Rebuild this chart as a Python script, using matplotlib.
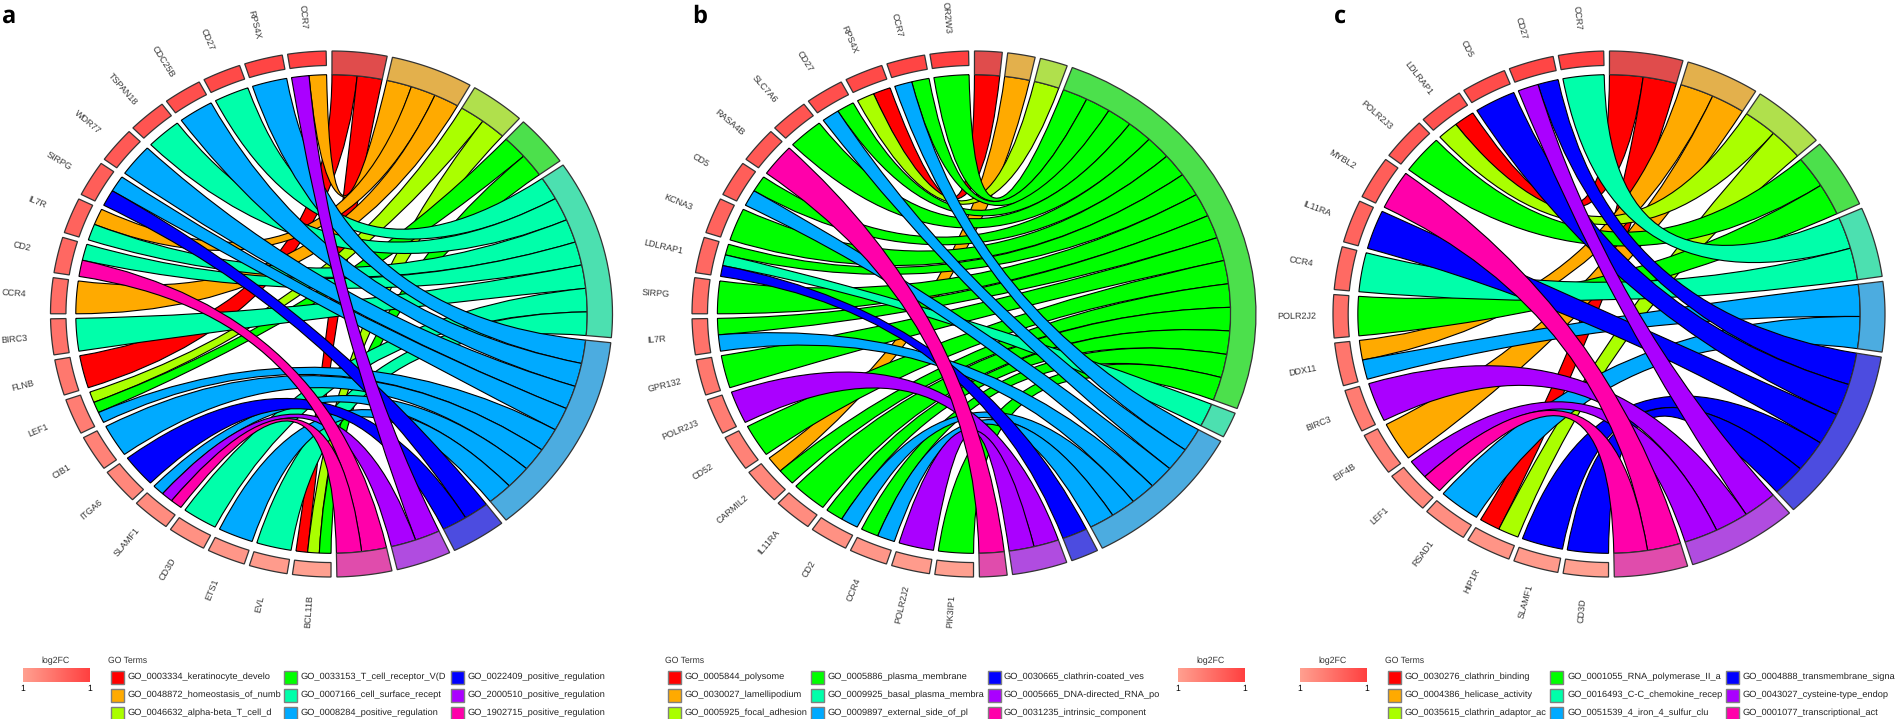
import numpy as np
import matplotlib
matplotlib.use('Agg')
import matplotlib.pyplot as plt
from matplotlib.path import Path
from matplotlib.patches import PathPatch, Rectangle
from matplotlib.colors import LinearSegmentedColormap

plt.rcParams['font.family'] = ['Liberation Sans', 'DejaVu Sans']
plt.rcParams['text.hinting'] = 'no_hinting'

# rainbow(9), ribbons and the paler outer band of every term
ribbon_colors = ['#FF0000', '#FFAA00', '#AAFF00', '#00FF00', '#00FFAA', '#00AAFF', '#0000FF', '#AA00FF', '#FF00AA']
band_colors = ['#E04C4C', '#E3B04C', '#B0E04C', '#4CE04C', '#4CE0B0', '#4CACE0', '#4C4CE0', '#B04CE0', '#E04CAC']

# panel a
genes_a = ['CCR7', 'RPS4X', 'CD27', 'CDC25B', 'TSPAN18', 'WDR77', 'SIRPG', 'IL7R', 'CD2', 'CCR4',
           'BIRC3', 'FLNB', 'LEF1', 'CIB1', 'ITGA6', 'SLAMF1', 'CD3D', 'ETS1', 'EVL', 'BCL11B']
links_a = [[1, 7], [5], [4], [5], [4], [5], [5, 6], [1, 4], [4, 8], [1],
           [4], [0], [2, 3, 5], [5], [6], [5, 7, 8], [4], [5], [4], [0, 2, 3]]
terms_a = ['GO_0003334_keratinocyte_develo', 'GO_0048872_homeostasis_of_numb', 'GO_0046632_alpha-beta_T_cell_d',
           'GO_0033153_T_cell_receptor_V(D', 'GO_0007166_cell_surface_recept', 'GO_0008284_positive_regulation',
           'GO_0022409_positive_regulation', 'GO_2000510_positive_regulation', 'GO_1902715_positive_regulation']

# panel b
genes_b = ['OR2W3', 'CCR7', 'RPS4X', 'CD27', 'SLC7A6', 'RASA4B', 'CD5', 'KCNA3', 'LDLRAP1', 'SIRPG',
           'IL7R', 'GPR132', 'POLR2J3', 'CD52', 'CARMIL2', 'IL11RA', 'CD2', 'CCR4', 'POLR2J2', 'PIK3IP1']
links_b = [[3], [3, 5], [0, 2], [3, 5], [3], [8], [3, 5], [3], [3, 4, 6], [3],
           [3, 5], [3], [7], [3], [1, 3], [3], [3, 5], [3, 5], [7], [3]]
terms_b = ['GO_0005844_polysome', 'GO_0030027_lamellipodium', 'GO_0005925_focal_adhesion',
           'GO_0005886_plasma_membrane', 'GO_0009925_basal_plasma_membra', 'GO_0009897_external_side_of_pl',
           'GO_0030665_clathrin-coated_ves', 'GO_0005665_DNA-directed_RNA_po', 'GO_0031235_intrinsic_component']

# panel c
genes_c = ['CCR7', 'CD27', 'CD5', 'LDLRAP1', 'POLR2J3', 'MYBL2', 'IL11RA', 'CCR4', 'POLR2J2', 'DDX11',
           'BIRC3', 'EIF4B', 'LEF1', 'RSAD1', 'HIP1R', 'SLAMF1', 'CD3D']
links_c = [[4], [6, 7], [6], [0, 2], [3], [8], [6], [4], [3], [1, 5],
           [7], [1], [7, 8], [5], [0, 2], [6], [6]]
terms_c = ['GO_0030276_clathrin_binding', 'GO_0004386_helicase_activity', 'GO_0035615_clathrin_adaptor_ac',
           'GO_0001055_RNA_polymerase_II_a', 'GO_0016493_C-C_chemokine_recep', 'GO_0051539_4_iron_4_sulfur_clu',
           'GO_0004888_transmembrane_signa', 'GO_0043027_cysteine-type_endop', 'GO_0001077_transcriptional_act']

gene_cmap = LinearSegmentedColormap.from_list('fc', ['#FF4040', '#FFA090'])
bar_cmap = LinearSegmentedColormap.from_list('bar', ['#FFA090', '#FF4040'])

fig = plt.figure(figsize=(18.95, 7.19), dpi=100)
ax = fig.add_axes([0, 0, 1, 1])
ax.set_xlim(0, 1895)
ax.set_ylim(719, 0)
ax.axis('off')

ROT = -0.5      # whole circle sits slightly rotated
HALF_GAP = 0.6
SECTOR_GAP = 1.1
R_BAND_GENE = 0.945
R_RIBBON = 0.91


def chord(cx, cy, rx, ry, genes, links, letter, letter_x):
    def pt(deg, r):
        a = np.radians(deg + ROT)
        return cx + rx * r * np.sin(a), cy - ry * r * np.cos(a)

    def arc(d0, d1, r):
        return [pt(d, r) for d in np.linspace(d0, d1, 25)]

    def band(d0, d1, r0, r1, face):
        verts = arc(d0, d1, r1) + arc(d1, d0, r0)
        ax.add_patch(plt.Polygon(verts, closed=True, facecolor=face, edgecolor='#333333', linewidth=0.9, zorder=5))

    n_genes = len(genes)
    n_terms = 9
    counts = [sum(t in g for g in links) for t in range(n_terms)]
    span = 180 - 2 * HALF_GAP

    # genes run down the left half, equal width
    gene_w = (span - (n_genes - 1) * SECTOR_GAP) / n_genes
    gene_seg = {}
    for i, g in enumerate(genes):
        g0 = HALF_GAP + i * (gene_w + SECTOR_GAP)
        g1 = g0 + gene_w
        band(-g0, -g1, R_BAND_GENE, 1.0, gene_cmap(i / (n_genes - 1)))
        mid = np.radians(-(g0 + g1) / 2 + ROT)
        lx, ly = pt(-(g0 + g1) / 2, 1.132)
        rot = np.degrees(np.arctan2(-np.cos(mid), -np.sin(mid)))
        ax.text(lx, ly, g, fontsize=6.5, color='#333333', rotation=rot, rotation_mode='anchor',
                ha='center', va='center')
        sub = gene_w / len(links[i])
        for j, t in enumerate(sorted(links[i])):
            gene_seg[(i, t)] = (g0 + j * sub, g0 + (j + 1) * sub)

    # terms run down the right half, width follows the number of genes
    link_w = (span - (n_terms - 1) * SECTOR_GAP) / sum(counts)
    pos = HALF_GAP
    for t in range(n_terms):
        band(pos, pos + counts[t] * link_w, R_RIBBON, 1.0, band_colors[t])
        members = [i for i in range(n_genes) if t in links[i]]
        for k, i in enumerate(members):
            t0 = pos + k * link_w
            t1 = t0 + link_w
            g0, g1 = gene_seg[(i, t)]
            gene_arc = arc(-g0, -g1, R_RIBBON)
            term_arc = arc(t1, t0, R_RIBBON)
            verts = list(gene_arc)
            codes = [Path.MOVETO] + [Path.LINETO] * (len(gene_arc) - 1)
            verts += [(cx, cy), term_arc[0]]
            codes += [Path.CURVE3, Path.CURVE3]
            verts += term_arc[1:]
            codes += [Path.LINETO] * (len(term_arc) - 1)
            verts += [(cx, cy), gene_arc[0]]
            codes += [Path.CURVE3, Path.CURVE3]
            ax.add_patch(PathPatch(Path(verts, codes), facecolor=ribbon_colors[t], edgecolor='black',
                                   linewidth=0.8, zorder=2 + t * 0.1))
        pos += counts[t] * link_w + SECTOR_GAP

    ax.text(letter_x, 23, letter, fontsize=17, fontweight='bold', family=['Open Sans', 'DejaVu Sans'],
            color='black', ha='left', va='baseline')


def legend(bar_x, terms, title_x, swatch_x, text_x):
    gradient = np.linspace(0, 1, 128).reshape(1, -1)
    ax.imshow(gradient, cmap=bar_cmap, extent=(bar_x, bar_x + 67, 682, 668), aspect='auto', zorder=3)
    ax.text(bar_x + 33, 661, 'log2FC', fontsize=6.3, color='#333333', ha='center', va='center')
    ax.text(bar_x, 689, '1', fontsize=6.2, color='black', ha='center', va='center')
    ax.text(bar_x + 67, 689, '1', fontsize=6.2, color='black', ha='center', va='center')
    ax.text(title_x, 661, 'GO Terms', fontsize=6.2, color='#333333', ha='left', va='center')
    rows = [677, 695, 713]
    for t, name in enumerate(terms):
        y = rows[t % 3]
        col = t // 3
        ax.add_patch(Rectangle((swatch_x[col] - 6.5, y - 6.5), 13, 13, facecolor=ribbon_colors[t],
                               edgecolor='#7F7F7F', linewidth=1.0, zorder=3))
        ax.text(text_x[col], y, name, fontsize=6.65, color='#222222', ha='left', va='center')


chord(331.5, 314, 281, 263, genes_a, links_a, 'a', 2)
chord(974, 314, 282, 263, genes_b, links_b, 'b', 692)
chord(1609, 314, 276, 263, genes_c, links_c, 'c', 1334)

legend(23, terms_a, 108, [117, 290, 457], [127.5, 301, 467.5])
legend(1178, terms_b, 665, [674, 817, 994], [684.5, 827.5, 1004])
legend(1300, terms_c, 1385, [1394, 1556.5, 1732], [1405, 1567.5, 1742.6])

ax.set_xlim(0, 1895)
ax.set_ylim(719, 0)
fig.savefig('out.png', dpi=100)
